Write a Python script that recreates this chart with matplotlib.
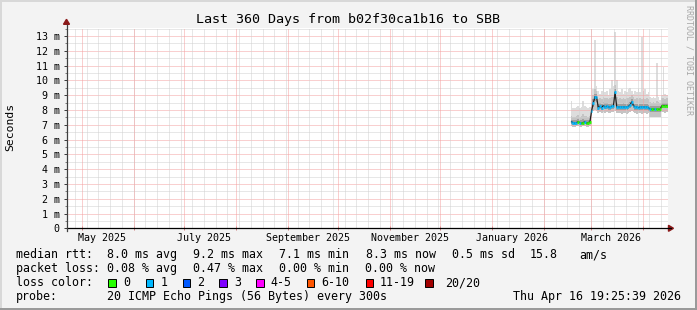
import datetime as dt
import numpy as np
import matplotlib
matplotlib.use("Agg")
import matplotlib.pyplot as plt
import matplotlib.dates as mdates
from matplotlib.lines import Line2D
from matplotlib.patches import Rectangle, Polygon
from matplotlib.collections import LineCollection
from matplotlib.transforms import blended_transform_factory

# ---------------- data ----------------
title = "Last 360 Days from b02f30ca1b16 to SBB"
ylabel = "Seconds"
data_start = dt.datetime(2026, 2, 17)   # first daily bin

median_ms = [7.20, 7.15, 7.10, 7.15, 7.20, 7.15, 7.10, 7.15, 7.20, 7.10, 7.15, 7.20,
             7.95, 8.45, 8.90, 8.85, 8.15, 8.25, 8.15, 8.30, 8.20, 8.25, 8.20, 8.20,
             8.25, 8.25, 9.20, 8.20,
             8.20, 8.20, 8.20, 8.20, 8.20, 8.20, 8.25,
             8.35, 8.55, 8.30,
             8.20, 8.20, 8.15, 8.20, 8.20, 8.20, 8.20, 8.20, 8.15,
             8.05, 8.05, 8.05, 8.05, 8.05, 8.05, 8.05,
             8.30, 8.30, 8.30, 8.30]

loss_count = [1, 1, 1, 1, 0, 1, 0, 0, 1, 0, 0, 0,
              1, 1, 1, 1, 1, 1, 1, 1, 1, 1, 1, 1, 1, 1, 1, 1,
              1, 1, 1, 1, 1, 1, 1,
              1, 1, 1,
              1, 1, 1, 1, 1, 1, 1, 1, 1,
              1, 0, 0, 1, 0, 0, 0,
              0, 0, 0, 0]

ping_min = [6.90, 6.85, 6.85, 6.90, 6.90, 6.85, 6.85, 6.90, 6.90, 6.85, 6.85, 6.90,
            7.60, 7.90, 8.00, 7.95, 7.80, 7.85, 7.80, 7.85, 7.80, 7.85, 7.80, 7.80,
            7.85, 7.85, 7.90, 7.80,
            7.80, 7.80, 7.75, 7.80, 7.80, 7.75, 7.80,
            7.85, 7.90, 7.85,
            7.80, 7.75, 7.80, 7.80, 7.75, 7.80, 7.80, 7.75, 7.80,
            7.50, 7.55, 7.50, 7.55, 7.50, 7.50, 7.55,
            7.85, 7.85, 7.80, 7.85]

ping_p25 = [7.05, 7.00, 6.95, 7.00, 7.05, 7.00, 6.95, 7.00, 7.05, 6.95, 7.00, 7.05,
            7.80, 8.20, 8.60, 8.55, 8.00, 8.05, 8.00, 8.10, 8.05, 8.05, 8.00, 8.00,
            8.05, 8.05, 8.75, 8.00,
            8.00, 8.00, 8.00, 8.00, 8.00, 8.00, 8.05,
            8.15, 8.30, 8.10,
            8.00, 8.00, 7.95, 8.00, 8.00, 8.00, 8.00, 8.00, 7.95,
            7.85, 7.85, 7.85, 7.85, 7.85, 7.85, 7.85,
            8.10, 8.10, 8.10, 8.10]

ping_p75 = [7.35, 7.30, 7.30, 7.35, 7.40, 7.30, 7.30, 7.40, 7.35, 7.30, 7.30, 7.35,
            8.15, 8.75, 9.10, 9.05, 8.40, 8.45, 8.40, 8.55, 8.45, 8.45, 8.40, 8.40,
            8.45, 8.50, 9.40, 8.45,
            8.40, 8.40, 8.40, 8.45, 8.40, 8.40, 8.45,
            8.55, 8.75, 8.50,
            8.40, 8.40, 8.35, 8.40, 8.40, 8.40, 8.40, 8.40, 8.35,
            8.25, 8.25, 8.25, 8.25, 8.30, 8.25, 8.25,
            8.50, 8.50, 8.45, 8.50]

ping_p90 = [7.60, 7.55, 7.55, 7.60, 7.65, 7.55, 7.60, 7.70, 7.60, 7.60, 7.55, 7.60,
            8.40, 9.00, 9.40, 9.30, 8.75, 8.80, 8.75, 8.90, 8.80, 8.80, 8.75, 8.80,
            8.90, 8.85, 9.70, 8.85,
            8.75, 8.80, 8.75, 8.80, 8.75, 8.80, 8.80,
            8.90, 9.00, 8.85,
            8.75, 8.80, 8.75, 8.80, 8.75, 8.80, 8.75, 8.80, 8.75,
            8.55, 8.50, 8.55, 8.50, 8.60, 8.55, 8.50,
            8.80, 8.80, 8.75, 8.80]

ping_max = [8.60, 8.10, 8.10, 8.20, 8.30, 8.10, 8.20, 8.60, 8.30, 8.20, 8.10, 8.20,
            8.50, 9.40, 12.70, 9.60, 9.30, 9.10, 9.30, 11.90, 9.20, 9.30, 9.00, 9.40,
            10.00, 9.60, 13.30, 10.00,
            9.30, 9.20, 9.40, 9.10, 9.30, 9.20, 9.40,
            9.50, 9.30, 9.10,
            9.30, 9.20, 9.40, 9.20, 12.95, 9.30, 9.40, 9.10, 9.20,
            8.90, 8.80, 8.90, 8.80, 11.15, 8.90, 8.70,
            9.00, 10.90, 9.10, 9.00]

loss_bins = [0, 1, 2, 3, 5, 10, 19, 20]
loss_labels = ["0", "1", "2", "3", "4-5", "6-10", "11-19", "20/20"]
loss_colors = ["#26ff00", "#00b8ff", "#0059ff", "#7e00ff", "#ff00ff",
               "#ff5500", "#ff0000", "#a10000"]

ytick_vals = list(range(0, 14))
ytick_labels = ["0"] + [f"{v} m" for v in range(1, 14)]
xlabel_months = [dt.datetime(2025, 5, 1), dt.datetime(2025, 7, 1), dt.datetime(2025, 9, 1),
                 dt.datetime(2025, 11, 1), dt.datetime(2026, 1, 1), dt.datetime(2026, 3, 1)]
xlabel_texts = ["May 2025", "July 2025", "September 2025", "November 2025",
                "January 2026", "March 2026"]

stats_rtt = ["median rtt:", "8.0 ms avg", "9.2 ms max", "7.1 ms min", "8.3 ms now",
             "0.5 ms sd", "15.8", "am/s"]
stats_loss = ["packet loss:", "0.08 % avg", "0.47 % max", "0.00 % min", "0.00 % now"]
probe_text = "20 ICMP Echo Pings (56 Bytes) every 300s"
stamp_text = "Thu Apr 16 19:25:39 2026"
watermark = "RRDTOOL / TOBI OETIKER"

# ---------------- layout ----------------
W, H = 697, 310
MONO = "DejaVu Sans Mono"
BACK = "#f3f3f3"

def fx(px):
    return px / W

def fy(py):
    return 1 - py / H

fig = plt.figure(figsize=(W / 100, H / 100), dpi=100, facecolor=BACK)

ax_l, ax_r, ax_t, ax_b = 66.5, 667.5, 28.3, 228.3
ax = fig.add_axes([fx(ax_l), fy(ax_b), (ax_r - ax_l) / W, (ax_b - ax_t) / H])
ax.set_facecolor("white")

# time scale fitted to the picture (May 1 2025 at px 81.7, 1.6746 px/day)
anchor = dt.datetime(2025, 5, 1)
pxday = 1.6746
x0 = mdates.date2num(anchor) + (ax_l - 81.7) / pxday
x1 = mdates.date2num(anchor) + (ax_r - 81.7) / pxday
ax.set_xlim(x0, x1)
ax.set_ylim(0, 13.52)

n = len(median_ms)
edges = mdates.date2num(data_start) + np.arange(n + 1)
centers = edges[:-1] + 0.5

def ext(a):
    a = list(a)
    return np.array(a + [a[-1]])

# smoke
ax.fill_between(edges, ext(ping_min), ext(ping_max), step="post",
                color="#dddddd", lw=0, zorder=2)
ax.fill_between(edges, ext(ping_min), ext(ping_p90), step="post",
                color="#c4c4c4", lw=0, zorder=2.1)
ax.fill_between(edges, ext(ping_p25), ext(ping_p75), step="post",
                color="#9e9e9e", lw=0, zorder=2.2)

# grid (dotted, drawn over the smoke)
dot = (0, (1, 1))
gkw = dict(lw=0.72, ls=dot, zorder=3)
for v in np.arange(0.5, 13.6, 1.0):
    ax.axhline(v, color="#d0d0d0", **gkw)
for v in range(1, 14):
    ax.axhline(v, color="#f4a0a0", **gkw)

wk = dt.datetime(2025, 4, 27)
while mdates.date2num(wk) < x1:
    ax.axvline(mdates.date2num(wk), color="#d0d0d0", **gkw)
    wk += dt.timedelta(days=7)
months = []
y, m = 2025, 5
while True:
    d = dt.datetime(y, m, 1)
    if mdates.date2num(d) > x1:
        break
    months.append(d)
    m += 1
    if m > 12:
        m, y = 1, y + 1
for d in months:
    ax.axvline(mdates.date2num(d), color="#f4a0a0", **gkw)

# median line: black connector then loss-coloured segments
ax.plot(centers, median_ms, color="#202020", lw=0.9, zorder=4)

def loss_color(c):
    for b, col in zip(loss_bins, loss_colors):
        if c <= b:
            return col
    return loss_colors[-1]

segs = [[(edges[i], median_ms[i]), (edges[i + 1], median_ms[i])] for i in range(n)]
cols = [loss_color(c) for c in loss_count]
ax.add_collection(LineCollection(segs, colors=cols, linewidths=2.0,
                                 capstyle="butt", zorder=5))

# axes styling
for s in ax.spines.values():
    s.set_visible(False)
ax.set_yticks(ytick_vals)
ax.set_yticklabels(ytick_labels, fontfamily=MONO, fontsize=7.2)
ax.set_yticks(np.arange(0.5, 13.6, 1.0), minor=True)
ax.tick_params(axis="y", which="major", length=2, width=0.72, color="#404040",
               direction="out", pad=3.0)
ax.tick_params(axis="y", which="minor", length=1.5, width=0.72, color="#808080",
               direction="out")
ax.set_xticks([mdates.date2num(d) for d in months])
ax.set_xticklabels([])
ax.tick_params(axis="x", which="major", length=2.5, width=0.72, color="#d08080",
               direction="inout")

trans = blended_transform_factory(ax.transData, ax.transAxes)
for d, t in zip(xlabel_months, xlabel_texts):
    ax.text(mdates.date2num(d + dt.timedelta(days=12)), -9.6 / 200, t,
            transform=trans, ha="center", va="center",
            fontfamily=MONO, fontsize=7.2, color="black")

# axis lines and arrows (pixel space)
fig.add_artist(Line2D([fx(ax_l), fx(ax_r + 3)], [fy(ax_b), fy(ax_b)],
                      color="black", lw=0.9, transform=fig.transFigure))
fig.add_artist(Line2D([fx(ax_l), fx(ax_l)], [fy(ax_b + 3), fy(ax_t - 3)],
                      color="#404040", lw=0.9, transform=fig.transFigure))
fig.add_artist(Polygon([[fx(ax_r + 1), fy(ax_b - 3)], [fx(ax_r + 1), fy(ax_b + 3)],
                        [fx(ax_r + 6), fy(ax_b)]], closed=True,
                       color="#8b1a1a", transform=fig.transFigure))
fig.add_artist(Polygon([[fx(ax_l - 3), fy(ax_t - 4)], [fx(ax_l + 3), fy(ax_t - 4)],
                        [fx(ax_l), fy(ax_t - 9)]], closed=True,
                       color="#8b1a1a", transform=fig.transFigure))

# title, label, watermark
fig.text(fx(348.5), fy(19), title, ha="center", va="center",
         fontfamily=MONO, fontsize=9.6, color="black")
fig.text(fx(10.5), fy(127), ylabel, rotation=90, ha="center", va="center",
         fontfamily=MONO, fontsize=8.2, color="black")
fig.text(fx(688.5), fy(60), watermark, rotation=270, ha="center", va="center",
         fontfamily=MONO, fontsize=6.0, color="#a8a8a8")

# legend
FS = 8.4
rtt_x = [16, 107, 193, 279, 366, 452, 530, 579]
for t, px in zip(stats_rtt, rtt_x):
    fig.text(fx(px), fy(254.5), t, ha="left", va="center", fontfamily=MONO, fontsize=FS)
loss_x = [16, 107, 193, 279, 365]
for t, px in zip(stats_loss, loss_x):
    fig.text(fx(px), fy(268.5), t, ha="left", va="center", fontfamily=MONO, fontsize=FS)

fig.text(fx(16), fy(282.5), "loss color:", ha="left", va="center",
         fontfamily=MONO, fontsize=FS)
box_x = [108.3, 145.7, 182.7, 219.3, 256, 306.7, 365.7, 425]
lab_x = [123, 160.7, 197.3, 234.7, 270.7, 321.7, 380, 445]
for bx, lx, col, lab in zip(box_x, lab_x, loss_colors, loss_labels):
    fig.add_artist(Rectangle((fx(bx), fy(286.8)), 7.5 / W, 7.5 / H,
                             facecolor=col, edgecolor="black", lw=0.7,
                             transform=fig.transFigure))
    fig.text(fx(lx), fy(282.5), lab, ha="left", va="center",
             fontfamily=MONO, fontsize=FS)

fig.text(fx(16), fy(296.3), "probe:", ha="left", va="center", fontfamily=MONO, fontsize=FS)
fig.text(fx(107), fy(296.3), probe_text, ha="left", va="center", fontfamily=MONO, fontsize=FS)
fig.text(fx(681), fy(296.3), stamp_text, ha="right", va="center", fontfamily=MONO, fontsize=FS)

# 3D frame
fig.add_artist(Rectangle((0, 0), fx(2), 1, facecolor="#d8d8d8", lw=0,
                         transform=fig.transFigure))
fig.add_artist(Rectangle((0, fy(2)), 1, 2 / H, facecolor="#d8d8d8", lw=0,
                         transform=fig.transFigure))
fig.add_artist(Rectangle((fx(W - 2.5), 0), 2.5 / W, 1, facecolor="#9a9a9a", lw=0,
                         transform=fig.transFigure))
fig.add_artist(Rectangle((0, 0), 1, 2.5 / H, facecolor="#9a9a9a", lw=0,
                         transform=fig.transFigure))

fig.savefig("out.png", dpi=100, facecolor=BACK)
